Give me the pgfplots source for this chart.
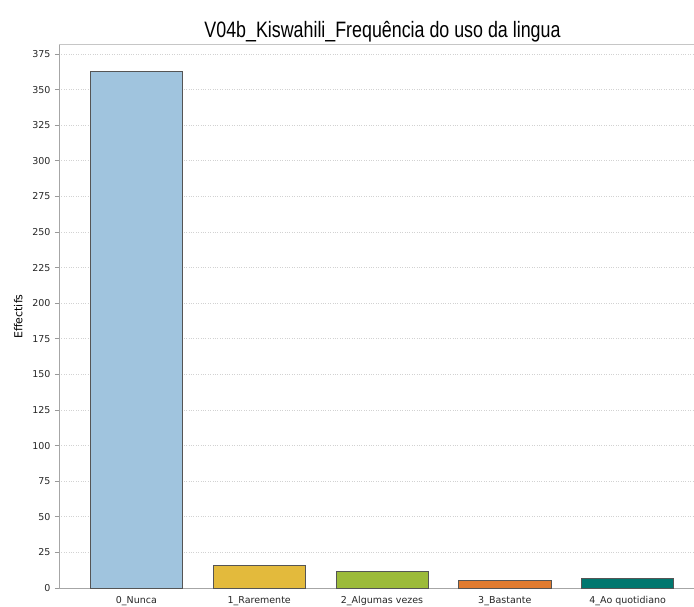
\documentclass[border=0pt]{standalone}
\usepackage{pgfplots}
\pgfplotsset{compat=1.18}
\usepackage{fontspec}
\setmainfont{DejaVu Sans}
\newfontfamily\titlefont[FakeStretch=0.8]{Liberation Sans}
\definecolor{cA}{HTML}{A0C4DE}
\definecolor{cB}{HTML}{E3BA3C}
\definecolor{cC}{HTML}{9CBB3A}
\definecolor{cD}{HTML}{E07B30}
\definecolor{cE}{HTML}{00776F}
\definecolor{edge}{HTML}{555555}
\begin{document}
\begin{tikzpicture}
\begin{axis}[
  scale only axis, width=635pt, height=543pt,
  at={(0pt,0pt)}, anchor=south west,
  xmin=-0.63, xmax=4.54, ymin=0, ymax=381.3,
  xtick={0,1,2,3,4},
  xticklabels={0\_Nunca,1\_Raremente,2\_Algumas vezes,3\_Bastante,4\_Ao quotidiano},
  ytick={0,25,...,375},
  axis x line*=bottom, axis y line*=left,
  axis line style={gray!70, line width=0.8pt, -},
  x tick style={draw=none},
  y tick style={gray!80, line width=0.6pt},
  tick align=outside, major tick length=4pt,
  ymajorgrids, grid style={gray!35, dotted, line width=0.6pt},
  tick label style={font=\fontsize{9.5}{10}\selectfont, text=black!85},
  yticklabel style={xshift=-1pt},
  xticklabel style={text height=1.6ex, text depth=0.3ex, yshift=1pt},
  /pgf/number format/assume math mode=true,
  ylabel={Effectifs},
  ylabel style={font=\fontsize{11}{12}\selectfont, yshift=3pt},
  title={\titlefont V04b\_Kiswahili\_Frequência do uso da lingua},
  title style={font=\fontsize{22.3}{24}\selectfont, yshift=-7pt, xshift=6pt},
  ybar, bar width=0.75, bar shift=0pt,
  after end axis/.code={\draw[gray!45, line width=1pt] (rel axis cs:0,1) -- (rel axis cs:1,1);},
]
\addplot[fill=cA, draw=edge, line width=0.8pt] coordinates {(0,363)};
\addplot[fill=cB, draw=edge, line width=0.8pt] coordinates {(1,16)};
\addplot[fill=cC, draw=edge, line width=0.8pt] coordinates {(2,12)};
\addplot[fill=cD, draw=edge, line width=0.8pt] coordinates {(3,5)};
\addplot[fill=cE, draw=edge, line width=0.8pt] coordinates {(4,7)};
\end{axis}
\pgfresetboundingbox
\path[use as bounding box] (-59pt,-18pt) rectangle (635pt,588pt);
\end{tikzpicture}
\end{document}
